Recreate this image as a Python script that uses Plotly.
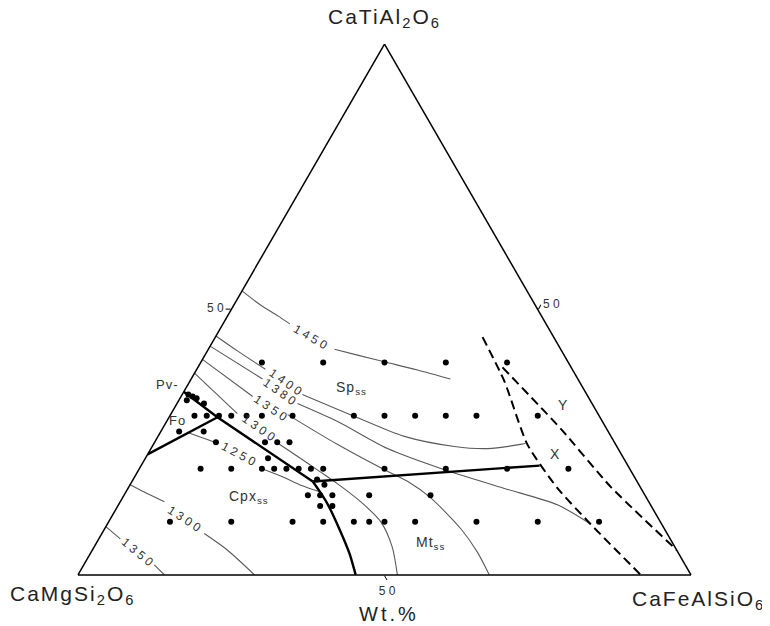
import plotly.graph_objects as go

# ---------------- data (wt.%; a = CaTiAl2O6, c = CaFeAlSiO6, b = CaMgSi2O6) -------------
apex_name = "CaTiAl<sub>2</sub>O<sub>6</sub>"
left_name = "CaMgSi<sub>2</sub>O<sub>6</sub>"
right_name = "CaFeAlSiO<sub>6</sub>"
axis_unit = "Wt.%"
tick_vals = [50]
tick_text = ["5 0"]

# experimental compositions
pts_a = ([40] * 5 +
         [34.0, 33.6, 33.3, 32.9, 32.3] +
         [30] * 13 +
         [27, 27] +
         [25] * 4 +
         [22] +
         [20] * 12 +
         [18, 17] +
         [15] * 5 +
         [13, 13] +
         [10] * 11)
pts_c = ([10, 20, 30, 40, 50] +
         [1.0, 1.9, 2.7, 1.3, 4.4] +
         [4, 6, 8, 10, 12.5, 15, 20, 30, 35, 40, 45, 50, 60] +
         [3, 7] +
         [10, 18, 20, 22] +
         [20] +
         [10, 15, 20, 22, 24, 26, 28, 30, 40, 50, 60, 70] +
         [30, 31.7] +
         [30, 32, 34, 40, 50] +
         [33, 35] +
         [10, 20, 30, 35, 40, 42.5, 45, 50, 60, 70, 80])

# phase boundaries (solid heavy)
bnd_pv_a = [34.5, 29.7, 17.6]
bnd_pv_c = [0, 7.9, 29.5]
bnd_fo_a = [22.7, 29.7]
bnd_fo_c = [0, 7.9]
bnd_mt_a = [17.6, 20.6]
bnd_mt_c = [29.5, 65.0]
bnd_cpx_a = [17.6, 15.7, 13.4, 8.1, 4.0, 0]
bnd_cpx_c = [29.5, 31.6, 34.0, 38.8, 42.3, 45.3]

# dashed lines X and Y
dash_x_a = [44.8, 36.5, 24.6, 16.3, 9.6, 0]
dash_x_c = [43.6, 51.3, 61.0, 70.1, 78.8, 91.8]
dash_y_a = [39.1, 27.6, 16.6, 4.7]
dash_y_c = [49.7, 64.9, 78.6, 95.3]

# isotherms (None = gap for the label)
iso1450_a = [53.5, 51.0, 48.8, 47.3, None, 42.5, 41.4, 40.1, 38.6, 36.9]
iso1450_c = [0, 4.1, 8.2, 10.9, None, 20.6, 24.9, 30.1, 36.1, 42.3]
iso1400_a = [45.0, 42.2, 38.75, None, 34.0, 29.9, 26.1, 24.2, 23.8, 24.6, 24.8]
iso1400_c = [0, 4.9, 11.2, None, 19.6, 30.1, 40.2, 49.3, 54.9, 59.9, 60.6]
iso1380_a = [43.1, 36.9, None, 32.3, 28.9, 23.8, 19.8, 16.3, 13.2, 9.6]
iso1380_c = [0, 11.65, None, 19.65, 27.9, 38.6, 49.9, 61.4, 71.6, 78.8]
iso1350_a = [40.6, 33.6, None, 30.2, 24.6, 19.8, 17.6, 14.7, 8.7, 4.3, 0]
iso1350_c = [0, 11.7, None, 19.1, 30.0, 40.1, 45.0, 50.0, 58.1, 63.0, 67.1]
iso1300_a = [38.0, 30.4, None, 25.1, 22.3, 19.5, 17.2, 13.8, 10.0, 5.3, 0]
iso1300_c = [0, 10.8, None, 19.7, 24.7, 29.65, 33.7, 39.2, 44.4, 48.6, 52.1]
iso1250_a = [26.8, 24.8, None, 20.2, 18.5, 16.8, 15.7]
iso1250_c = [4.6, 10.4, None, 19.5, 24.1, 28.2, 31.5]
cpx1300_a = [17.0, 15.3, 13.8, None, 7.8, 4.7, 0]
cpx1300_c = [0, 3.7, 7.2, None, 16.7, 22.0, 28.8]
cpx1350_a = [9.1, 6.8, None, 1.9, 0]
cpx1350_c = [0, 3.5, None, 11.5, 14.1]

# isotherm labels: text, a, c, angle
iso_lbl_text = ["1 4 5 0", "1 4 0 0", "1 3 8 0", "1 3 5 0", "1 3 0 0", "1 2 5 0", "1 3 0 0", "1 3 5 0"]
iso_lbl_a = [44.8, 36.3, 34.4, 31.4, 27.6, 22.7, 10.6, 4.35]
iso_lbl_c = [15.5, 15.7, 15.7, 15.7, 15.7, 14.85, 12.1, 7.5]
iso_lbl_ang = [30, 35, 35, 34, 35, 28, 33, 40]

# field labels
fld_text = ["Sp<sub>ss</sub>", "Cpx<sub>ss</sub>", "Mt<sub>ss</sub>", "Y", "X", "Pv-", "Fo"]
fld_a = [35.2, 14.7, 6.0, 32.1, 22.7, 35.9, 29.1]
fld_c = [27.0, 20.5, 54.5, 63.0, 66.4, -3.4, 1.75]
fld_size = [14, 14, 14, 14, 14, 13, 13]

FONT = "Liberation Sans, Arial, Helvetica, sans-serif"


def b_of(a_list, c_list):
    return [None if (a is None or c is None) else 100 - a - c for a, c in zip(a_list, c_list)]


def to_paper(a, c):
    return (c + a / 2.0) / 100.0, a / 100.0


def spaced(txt, px):
    return '<span style="letter-spacing:%spx">%s</span>' % (px, txt)


fig = go.Figure()

iso_sets = [(iso1450_a, iso1450_c), (iso1400_a, iso1400_c), (iso1380_a, iso1380_c),
            (iso1350_a, iso1350_c), (iso1300_a, iso1300_c), (iso1250_a, iso1250_c),
            (cpx1300_a, cpx1300_c), (cpx1350_a, cpx1350_c)]
for ia, ic in iso_sets:
    fig.add_trace(go.Scatterternary(a=ia, b=b_of(ia, ic), c=ic, mode="lines",
                                    line=dict(color="#5a5a5a", width=1.1, shape="spline", smoothing=0.8),
                                    connectgaps=False, hoverinfo="skip"))

for ba, bc in [(bnd_pv_a, bnd_pv_c), (bnd_fo_a, bnd_fo_c), (bnd_mt_a, bnd_mt_c)]:
    fig.add_trace(go.Scatterternary(a=ba, b=b_of(ba, bc), c=bc, mode="lines",
                                    line=dict(color="black", width=2.4), hoverinfo="skip"))
fig.add_trace(go.Scatterternary(a=bnd_cpx_a, b=b_of(bnd_cpx_a, bnd_cpx_c), c=bnd_cpx_c, mode="lines",
                                line=dict(color="black", width=2.4, shape="spline", smoothing=0.6),
                                hoverinfo="skip"))

for da, dc in [(dash_x_a, dash_x_c), (dash_y_a, dash_y_c)]:
    fig.add_trace(go.Scatterternary(a=da, b=b_of(da, dc), c=dc, mode="lines",
                                    line=dict(color="black", width=2, dash="9px,5px", shape="spline",
                                              smoothing=0.6),
                                    hoverinfo="skip"))

fig.add_trace(go.Scatterternary(a=pts_a, b=b_of(pts_a, pts_c), c=pts_c, mode="markers",
                                marker=dict(color="black", size=6), hoverinfo="skip"))

annotations = []
for t, a, c, ang in zip(iso_lbl_text, iso_lbl_a, iso_lbl_c, iso_lbl_ang):
    x, y = to_paper(a, c)
    annotations.append(dict(x=x, y=y, xref="paper", yref="paper", text=t, showarrow=False,
                            textangle=ang, font=dict(family=FONT, size=12, color="#333"),
                            xanchor="center", yanchor="middle"))
for t, a, c, s in zip(fld_text, fld_a, fld_c, fld_size):
    x, y = to_paper(a, c)
    annotations.append(dict(x=x, y=y, xref="paper", yref="paper", text=spaced(t, 1), showarrow=False,
                            font=dict(family=FONT, size=s, color="#333"),
                            xanchor="center", yanchor="middle"))

annotations += [
    dict(x=0.5, y=1, xref="paper", yref="paper", text=spaced(apex_name, 2), showarrow=False,
         yshift=26, xanchor="center", yanchor="middle", font=dict(family=FONT, size=21, color="#222")),
    dict(x=0, y=0, xref="paper", yref="paper", text=spaced(left_name, 2), showarrow=False,
         xshift=-6, yshift=-20, xanchor="center", yanchor="middle", font=dict(family=FONT, size=21, color="#222")),
    dict(x=1, y=0, xref="paper", yref="paper", text=spaced(right_name, 2), showarrow=False,
         xshift=7, yshift=-25, xanchor="center", yanchor="middle", font=dict(family=FONT, size=21, color="#222")),
    dict(x=0.5, y=0, xref="paper", yref="paper", text=spaced(axis_unit, 3), showarrow=False,
         xshift=4, yshift=-39, xanchor="center", yanchor="middle", font=dict(family=FONT, size=20, color="#222")),
]

axis_common = dict(title=dict(text=""), linecolor="black", linewidth=1.5, showgrid=False,
                   tickmode="array", tickvals=tick_vals, ticktext=tick_text, ticks="outside",
                   ticklen=5, tickcolor="black", tickfont=dict(family=FONT, size=12, color="#333"),
                   min=0)

# page body has an 8px default margin, so the plot area is offset by 8px here
fig.update_layout(
    width=770, height=626,
    margin=dict(l=70, r=87, t=36, b=59),
    paper_bgcolor="white", plot_bgcolor="white",
    showlegend=False,
    ternary=dict(sum=100, bgcolor="white", domain=dict(x=[0, 1], y=[0, 1]),
                 aaxis=axis_common, baxis=axis_common, caxis=axis_common),
    annotations=annotations,
)

fig.write_html("out.html")
